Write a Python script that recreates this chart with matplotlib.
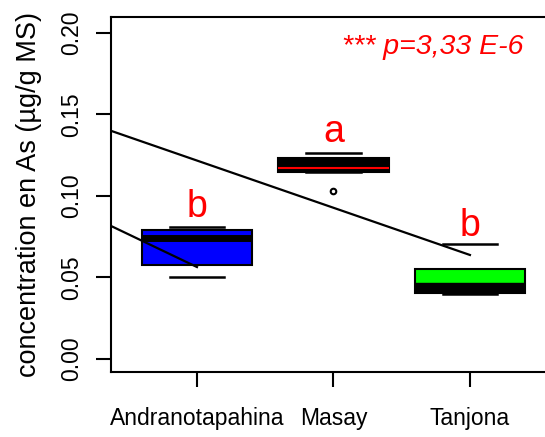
import matplotlib
matplotlib.use("Agg")
import matplotlib.pyplot as plt

plt.rcParams['font.family'] = ['Liberation Sans', 'DejaVu Sans']

sites = ['Andranotapahina', 'Masay', 'Tanjona']
q1 = [0.0577, 0.1147, 0.0405]
med = [0.0745, 0.1172, 0.0436]
q3 = [0.0791, 0.1233, 0.0552]
whis_lo = [0.0503, 0.1147, 0.0398]
whis_hi = [0.081, 0.1264, 0.0705]
outliers = [[], [0.1031], []]
letters = ['b', 'a', 'b']
letter_y = [0.0871, 0.1331, 0.0755]
box_colors = ['#0000ff', '#000000', '#00ff00']
med_colors = ['black', 'red', 'black']
med_widths = [5, 1.5, 7.5]

# the two trend lines seen on the plot
line1_x = [0.3, 3.0]
line1_y = [0.1420, 0.0638]
line2_x = [0.3, 1.0]
line2_y = [0.0844, 0.0564]

stats = []
for i in range(3):
    stats.append(dict(med=med[i], q1=q1[i], q3=q3[i], whislo=whis_lo[i],
                      whishi=whis_hi[i], fliers=outliers[i], label=sites[i]))

fig = plt.figure(figsize=(5.45, 4.37), dpi=100)
ax = fig.add_axes([111/545, 65/437, 434/545, 355/437])

bp = ax.bxp(stats, positions=[1, 2, 3], widths=0.81, capwidths=0.4,
            patch_artist=True,
            boxprops=dict(edgecolor='black', linewidth=1.5),
            whiskerprops=dict(linestyle='none'),
            capprops=dict(color='black', linewidth=1.8),
            flierprops=dict(marker='o', markersize=4, markerfacecolor='white',
                            markeredgecolor='black', markeredgewidth=1.5))
for i in range(3):
    bp['boxes'][i].set_facecolor(box_colors[i])
    bp['medians'][i].set_color(med_colors[i])
    bp['medians'][i].set_linewidth(med_widths[i])
    bp['medians'][i].set_solid_capstyle('butt')

ax.plot(line1_x, line1_y, color='black', lw=1.6)
ax.plot(line2_x, line2_y, color='black', lw=1.6)

for i in range(3):
    ax.text(i + 1, letter_y[i], letters[i], color='red', fontsize=27,
            ha='center', va='baseline')

ax.text(2.73, 0.1915, '*** p=3,33 E-6', color='red', fontsize=20.5,
        style='italic', ha='center', va='center')

ax.set_xlim(0.37, 3.55)
ax.set_ylim(-0.008, 0.2098)
ax.set_yticks([0.0, 0.05, 0.10, 0.15, 0.20])
ax.set_yticklabels(['0.00', '0.05', '0.10', '0.15', '0.20'], rotation=90,
                   va='center')
ax.set_xticks([1, 2, 3])
ax.set_xticklabels(sites)
ax.tick_params(axis='y', length=11, width=1.5, pad=9, labelsize=16.5)
ax.tick_params(axis='x', length=11, width=1.5, pad=14, labelsize=16.5)
ax.set_ylabel('concentration en As (µg/g MS)', fontsize=19.5, labelpad=13)
for s in ['left', 'bottom', 'top']:
    ax.spines[s].set_linewidth(1.5)
ax.spines['right'].set_visible(False)

fig.savefig('out.png', dpi=100)
